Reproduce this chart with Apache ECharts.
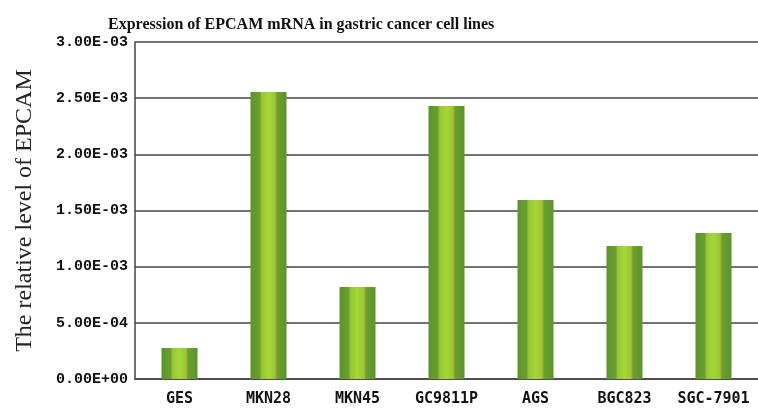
<!DOCTYPE html>
<html>
<head>
<meta charset="utf-8">
<script src="https://cdn.jsdelivr.net/npm/echarts@6/dist/echarts.min.js"></script>
<style>
  html, body { margin: 0; padding: 0; background: #fff; }
  #chart { width: 758px; height: 408px; }
</style>
</head>
<body>
<div id="chart"></div>
<script>
  const cellLines = ['GES', 'MKN28', 'MKN45', 'GC9811P', 'AGS', 'BGC823', 'SGC-7901']
  const relativeLevel = [0.000276, 0.002555, 0.000819, 0.00243, 0.001594, 0.001184, 0.0013]

  // 3.00E-03 style labels, two digit exponent
  const sciLabel = (v) => {
    if (v === 0) return '0.00E+00'
    const [m, e] = v.toExponential(2).split('e')
    const n = parseInt(e, 10)
    const sign = n < 0 ? '-' : '+'
    return m + 'E' + sign + String(Math.abs(n)).padStart(2, '0')
  }

  const barFill = new echarts.graphic.LinearGradient(0, 0, 1, 0, [
    { offset: 0, color: '#5a9428' },
    { offset: 0.26, color: '#6ba030' },
    { offset: 0.29, color: '#8fb838' },
    { offset: 0.32, color: '#96ca30' },
    { offset: 0.5, color: '#a6d63a' },
    { offset: 0.68, color: '#96ca30' },
    { offset: 0.71, color: '#a89a3a' },
    { offset: 0.74, color: '#6ba030' },
    { offset: 1, color: '#5a9428' }
  ])

  const chart = echarts.init(document.getElementById('chart'))
  const option = {
    animation: false,
    title: {
      text: 'Expression of EPCAM mRNA in gastric cancer cell lines',
      left: 103,
      top: 12,
      textStyle: {
        fontFamily: 'Liberation Serif',
        fontWeight: 'bold',
        fontSize: 16,
        color: '#111'
      }
    },
    grid: { left: 135, top: 42, width: 632, height: 337 },
    xAxis: {
      type: 'category',
      data: cellLines,
      axisLine: { lineStyle: { color: '#444', width: 1.5 } },
      axisTick: { inside: true, length: 4, lineStyle: { color: '#444' } },
      axisLabel: {
        interval: 0,
        margin: 13,
        fontFamily: 'DejaVu Sans Mono',
        fontWeight: 'bold',
        fontSize: 15,
        color: '#111'
      }
    },
    yAxis: {
      type: 'value',
      min: 0,
      max: 0.003,
      interval: 0.0005,
      name: 'The relative level of EPCAM',
      nameLocation: 'middle',
      nameGap: 98,
      nameTextStyle: { fontFamily: 'Liberation Serif', fontSize: 24, color: '#222' },
      axisLine: { show: true, lineStyle: { color: '#444', width: 1.5 } },
      axisTick: { show: false },
      splitLine: { lineStyle: { color: '#444', width: 1.5 } },
      axisLabel: {
        margin: 7,
        formatter: sciLabel,
        fontFamily: 'Liberation Mono',
        fontWeight: 'bold',
        fontSize: 15,
        color: '#111'
      }
    },
    series: [
      {
        type: 'bar',
        data: relativeLevel,
        barWidth: 36,
        itemStyle: { color: barFill }
      }
    ]
  }
  chart.setOption(option)
</script>
</body>
</html>
